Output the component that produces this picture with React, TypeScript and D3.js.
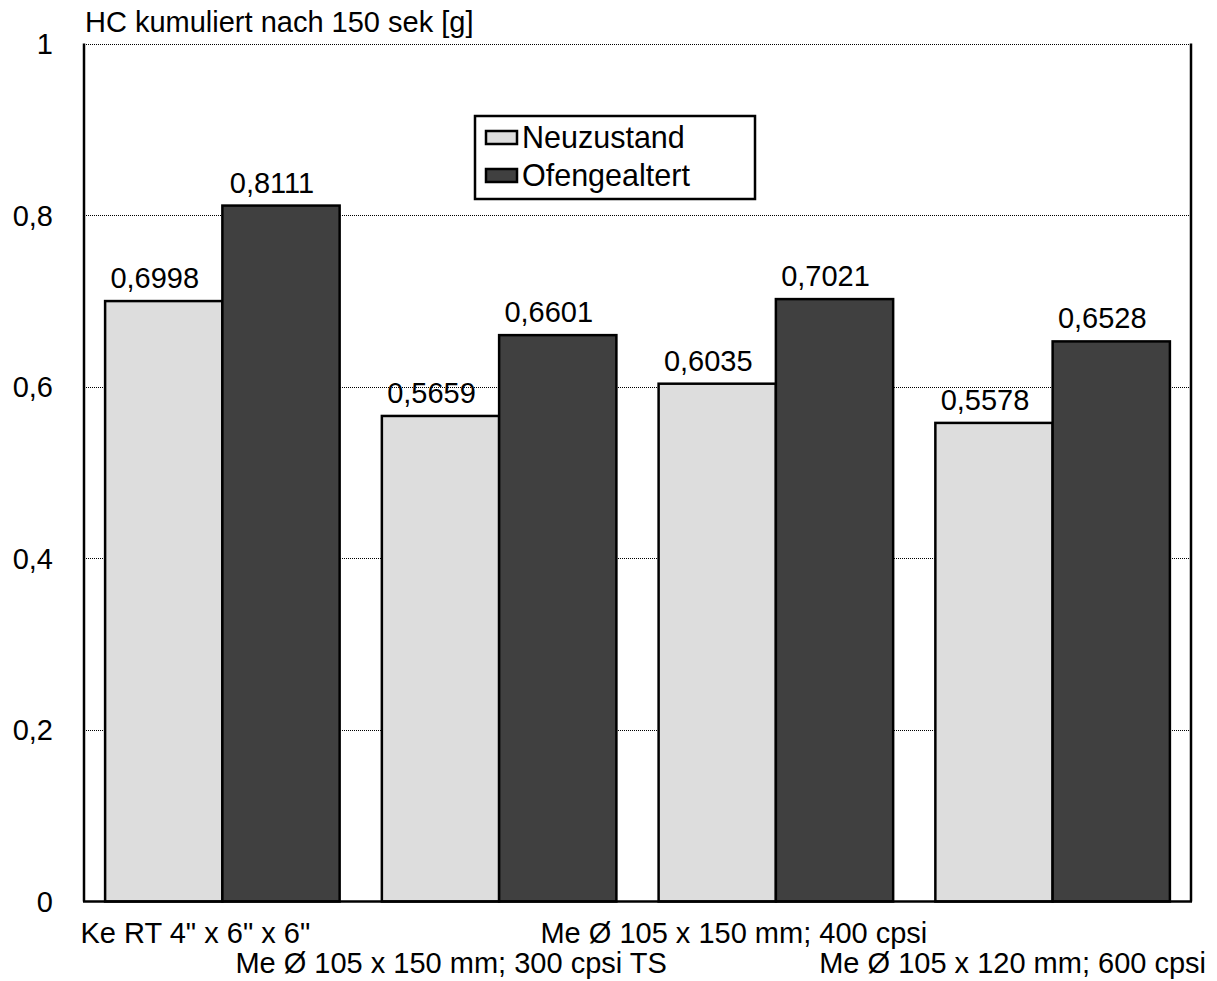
import React from "react";
import * as d3 from "d3";

// Categories (x axis) and series values
const categories: string[] = [
  'Ke RT 4" x 6" x 6"',
  "Me Ø 105 x 150 mm; 300 cpsi TS",
  "Me Ø 105 x 150 mm; 400 cpsi",
  "Me Ø 105 x 120 mm; 600 cpsi",
];
const seriesNames: string[] = ["Neuzustand", "Ofengealtert"];
const neuzustand: number[] = [0.6998, 0.5659, 0.6035, 0.5578];
const ofengealtert: number[] = [0.8111, 0.6601, 0.7021, 0.6528];
const yTicks: number[] = [0, 0.2, 0.4, 0.6, 0.8, 1];
const gridValues: number[] = [0.2, 0.4, 0.6, 0.8, 1];
const yTitle = "HC kumuliert nach 150 sek [g]";

// Layout
const W = 1217;
const H = 981;
const plot = { left: 84, right: 1191, top: 43.5, bottom: 901.5 };
const FONT = "'Liberation Sans', Arial, Helvetica, sans-serif";
const FS = 29;
const LEGEND_FS = 30.5;
const colors = ["#dddddd", "#404040"];
// horizontal nudges for the staggered category labels
const labelNudge = [-27, -48, -42, -40];
const labelRowBaseline = [943, 973];

const fmt = (v: number) => String(v).replace(".", ",");
const fmtTick = (v: number) => (v === 0 || v === 1 ? String(v) : v.toFixed(1).replace(".", ","));

export default function App() {
  const x0 = d3
    .scaleBand<string>()
    .domain(categories)
    .range([plot.left, plot.right])
    .paddingInner(0)
    .paddingOuter(0);
  const x1 = d3
    .scaleBand<string>()
    .domain(seriesNames)
    .range([0, x0.bandwidth()])
    .paddingInner(0)
    .paddingOuter(0.18);
  const y = d3.scaleLinear().domain([0, 1]).range([plot.bottom, plot.top]);

  const series = [neuzustand, ofengealtert];

  return (
    <svg
      width={W}
      height={H}
      style={{ position: "absolute", left: 0, top: 0, background: "#fff" }}
      fontFamily={FONT}
    >
      <rect x={0} y={0} width={W} height={H} fill="#fff" />

      {/* gridlines */}
      {gridValues.map((v) => (
        <line
          key={"g" + v}
          x1={plot.left}
          x2={plot.right}
          y1={Math.round(y(v)) + 0.5}
          y2={Math.round(y(v)) + 0.5}
          stroke="#000"
          strokeWidth={1}
          strokeDasharray="1,1"
        />
      ))}

      {/* bars */}
      {categories.map((c, i) =>
        seriesNames.map((s, j) => {
          const v = series[j][i];
          const bx = (x0(c) as number) + (x1(s) as number);
          return (
            <rect
              key={c + s}
              x={bx}
              y={y(v)}
              width={x1.bandwidth()}
              height={y(0) - y(v)}
              fill={colors[j]}
              stroke="#000"
              strokeWidth={2.5}
            />
          );
        })
      )}

      {/* value labels */}
      {categories.map((c, i) =>
        seriesNames.map((s, j) => {
          const v = series[j][i];
          const cx = (x0(c) as number) + (x1(s) as number) + x1.bandwidth() / 2 - 9;
          return (
            <text
              key={"l" + c + s}
              x={cx}
              y={y(v) - 13}
              textAnchor="middle"
              fontSize={FS}
              fill="#000"
            >
              {fmt(v)}
            </text>
          );
        })
      )}

      {/* frame: left, right, bottom */}
      <line x1={plot.left} x2={plot.left} y1={plot.top} y2={plot.bottom} stroke="#000" strokeWidth={2.5} />
      <line x1={plot.right} x2={plot.right} y1={plot.top} y2={plot.bottom} stroke="#000" strokeWidth={2.5} />
      <line x1={plot.left - 1} x2={plot.right + 1} y1={plot.bottom} y2={plot.bottom} stroke="#000" strokeWidth={2.5} />

      {/* y tick labels */}
      {yTicks.map((v) => (
        <text
          key={"t" + v}
          x={53}
          y={y(v)}
          dy="0.36em"
          textAnchor="end"
          fontSize={FS}
          fill="#000"
        >
          {fmtTick(v)}
        </text>
      ))}

      {/* y axis title */}
      <text x={85} y={32} fontSize={FS} fill="#000">
        {yTitle}
      </text>

      {/* category labels, staggered in two rows */}
      {categories.map((c, i) => (
        <text
          key={"c" + c}
          x={(x0(c) as number) + x0.bandwidth() / 2 + labelNudge[i]}
          y={labelRowBaseline[i % 2]}
          textAnchor="middle"
          fontSize={FS}
          fill="#000"
        >
          {c}
        </text>
      ))}

      {/* legend */}
      <g>
        <rect x={475} y={116} width={280} height={83} fill="#fff" stroke="#000" strokeWidth={2.5} />
        {seriesNames.map((s, j) => (
          <g key={"lg" + s} transform={`translate(0, ${j * 38})`}>
            <rect x={486} y={131} width={31} height={13} fill={colors[j]} stroke="#000" strokeWidth={2.5} />
            <text x={522} y={148} fontSize={LEGEND_FS} fill="#000">
              {s}
            </text>
          </g>
        ))}
      </g>
    </svg>
  );
}
